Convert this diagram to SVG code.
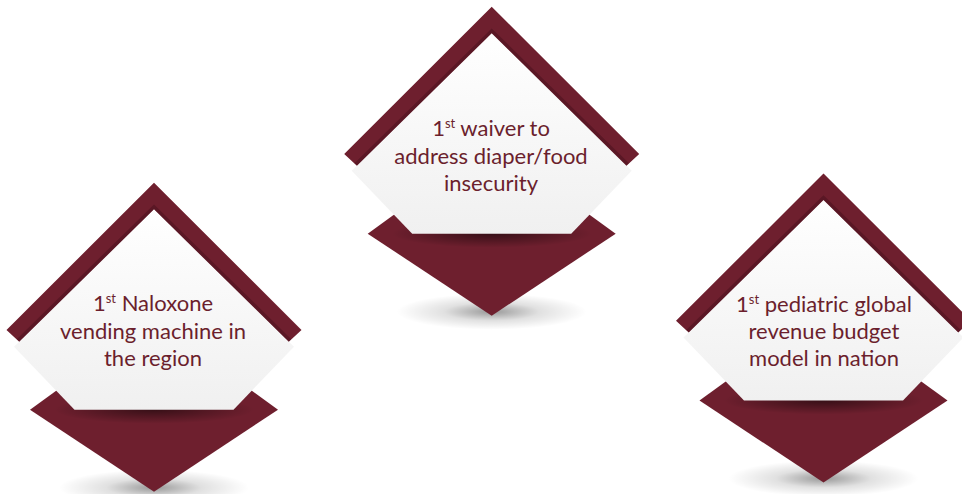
<svg xmlns="http://www.w3.org/2000/svg" xmlns:xlink="http://www.w3.org/1999/xlink" width="962" height="494" viewBox="0 0 962 494">
<style>
.lbl{font-family:Lato,"Open Sans","Liberation Sans",sans-serif;font-size:22px;fill:#6b1f2d;text-anchor:middle}
.sup{font-size:13px}
.red{fill:#6e1f2e}
</style>
<defs>
<radialGradient id="floorShadow" cx="0.5" cy="0.5" r="0.5">
<stop offset="0" stop-color="#000" stop-opacity="0.4"/>
<stop offset="0.5" stop-color="#000" stop-opacity="0.12"/>
<stop offset="1" stop-color="#000" stop-opacity="0"/>
</radialGradient>
<radialGradient id="panelShadow" cx="0.5" cy="0.5" r="0.5">
<stop offset="0" stop-color="#000" stop-opacity="0.5"/>
<stop offset="1" stop-color="#000" stop-opacity="0"/>
</radialGradient>
<linearGradient id="panelFill" x1="0" y1="0" x2="0" y2="1">
<stop offset="0" stop-color="#ffffff"/>
<stop offset="1" stop-color="#f0f0f0"/>
</linearGradient>
<clipPath id="chevClip">
<path d="M-147.5,147.3 L0,0 L147.5,147.3 L134.8,159 L0,26.6 L-134.8,159 Z"/>
</clipPath>
<clipPath id="redClip">
<path d="M-124,227 L0,137 L124,227 L0,309 Z"/>
</clipPath>
<g id="badge">
<ellipse cx="0" cy="305" rx="95" ry="18" fill="url(#floorShadow)"/>
<path class="red" d="M-124,227 L0,137 L124,227 L0,309 Z"/>
<ellipse cx="0" cy="227" rx="100" ry="14" fill="url(#panelShadow)" clip-path="url(#redClip)"/>
<path d="M0,26 L140,164 L79.5,227 L-79.5,227 L-140,164 Z" fill="url(#panelFill)"/>
<path class="red" d="M-147.5,147.3 L0,0 L147.5,147.3 L134.8,159 L0,26.6 L-134.8,159 Z"/>
<polyline points="-134.8,159 0,26.6 134.8,159" fill="none" stroke="#2e0810" stroke-width="7" stroke-opacity="0.3" clip-path="url(#chevClip)"/>
</g>
</defs>
<g id="connectors"/>
<g id="node-waiver">
<use xlink:href="#badge" href="#badge" transform="translate(491.7,6.7)"/>
<text class="lbl" x="491" y="136">1<tspan class="sup" dy="-8">st</tspan><tspan dy="8"> waiver to</tspan></text>
<text class="lbl" x="491" y="164">address diaper/food</text>
<text class="lbl" x="491" y="191">insecurity</text>
</g>
<g id="node-naloxone">
<use xlink:href="#badge" href="#badge" transform="translate(154,182.7)"/>
<text class="lbl" x="153" y="311">1<tspan class="sup" dy="-8">st</tspan><tspan dy="8"> Naloxone</tspan></text>
<text class="lbl" x="153" y="339">vending machine in</text>
<text class="lbl" x="153" y="366">the region</text>
</g>
<g id="node-pediatric">
<use xlink:href="#badge" href="#badge" transform="translate(823.5,173.5)"/>
<text class="lbl" x="824" y="311.5">1<tspan class="sup" dy="-8">st</tspan><tspan dy="8"> pediatric global</tspan></text>
<text class="lbl" x="824" y="339">revenue budget</text>
<text class="lbl" x="824" y="366">model in nation</text>
</g>
</svg>
